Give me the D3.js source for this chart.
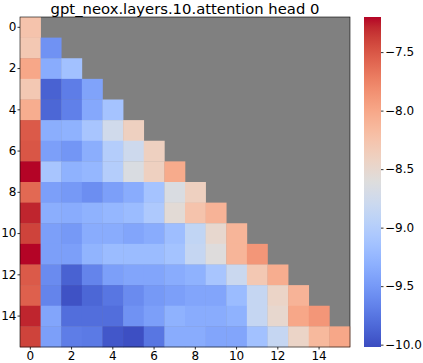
<!DOCTYPE html>
<html>
<head>
<meta charset="utf-8">
<script src="https://cdn.jsdelivr.net/npm/d3@7"></script>
<style>
  body { margin: 0; background: #fff; }
</style>
</head>
<body>
<div id="chart"></div>
<script>
const title = 'gpt_neox.layers.10.attention head 0';

// lower triangle of attention scores, row i has i+1 values
const rows = [
  [-8.25],
  [-8.3, -9.55],
  [-8.0, -9.35, -9.15],
  [-8.3, -9.88, -9.7, -9.42],
  [-8.05, -9.85, -9.68, -9.38, -9.12],
  [-7.52, -9.33, -9.3, -9.1, -8.75, -8.4],
  [-7.5, -9.45, -9.52, -9.33, -9.0, -8.78, -8.4],
  [-7.2, -9.1, -9.3, -9.25, -9.0, -8.65, -8.4, -8.03],
  [-7.6, -9.45, -9.5, -9.58, -9.45, -9.35, -9.12, -8.65, -8.4],
  [-7.28, -9.33, -9.35, -9.3, -9.25, -9.2, -9.05, -8.55, -8.25, -8.1],
  [-7.4, -9.45, -9.5, -9.35, -9.35, -9.4, -9.35, -9.18, -8.88, -8.5, -8.12],
  [-7.2, -9.45, -9.45, -9.28, -9.2, -9.2, -9.2, -9.13, -8.85, -8.6, -8.12, -7.88],
  [-7.52, -9.6, -9.88, -9.65, -9.45, -9.4, -9.4, -9.35, -9.3, -9.1, -8.8, -8.3, -8.05],
  [-7.55, -9.65, -9.98, -9.85, -9.75, -9.6, -9.5, -9.45, -9.4, -9.4, -9.2, -8.85, -8.45, -8.1],
  [-7.28, -9.4, -9.8, -9.8, -9.8, -9.55, -9.45, -9.3, -9.35, -9.35, -9.3, -8.85, -8.5, -8.0, -7.88],
  [-7.4, -9.45, -9.7, -9.72, -9.95, -10.0, -9.75, -9.35, -9.35, -9.4, -9.4, -9.15, -8.85, -8.45, -8.15, -8.0]
];

const n = 16;
const vmin = -10.02, vmax = -7.2;
const axisTicks = [0, 2, 4, 6, 8, 10, 12, 14];
const cbarTicks = [-7.5, -8.0, -8.5, -9.0, -9.5, -10.0];

// matplotlib coolwarm
const coolwarm = [
  [0.2298, 0.2987, 0.7537], [0.2662, 0.3531, 0.8015], [0.3039, 0.4065, 0.8450],
  [0.3428, 0.4588, 0.8837], [0.3830, 0.5094, 0.9174], [0.4244, 0.5581, 0.9456],
  [0.4667, 0.6046, 0.9682], [0.5096, 0.6483, 0.9848], [0.5530, 0.6889, 0.9954],
  [0.5963, 0.7261, 0.9998], [0.6392, 0.7596, 0.9982], [0.6813, 0.7890, 0.9904],
  [0.7222, 0.8140, 0.9766], [0.7615, 0.8343, 0.9569], [0.7987, 0.8498, 0.9317],
  [0.8335, 0.8602, 0.9011], [0.8654, 0.8654, 0.8654], [0.8978, 0.8489, 0.8209],
  [0.9241, 0.8274, 0.7745], [0.9445, 0.8009, 0.7267], [0.9589, 0.7698, 0.6780],
  [0.9673, 0.7341, 0.6288], [0.9700, 0.6943, 0.5794], [0.9668, 0.6504, 0.5303],
  [0.9580, 0.6028, 0.4818], [0.9437, 0.5518, 0.4342], [0.9239, 0.4973, 0.3880],
  [0.8990, 0.4396, 0.3432], [0.8692, 0.3783, 0.3003], [0.8346, 0.3129, 0.2593],
  [0.7956, 0.2413, 0.2205], [0.7525, 0.1572, 0.1841], [0.7057, 0.0156, 0.1502]
].map(c => d3.rgb(c[0] * 255, c[1] * 255, c[2] * 255).toString());

const W = 423, H = 363;
const plot = { x0: 20, x1: 350, y0: 17, y1: 347 };
const cbar = { x0: 364, x1: 381 };
const font = 'DejaVu Sans';
const tickFont = '12px';

const svg = d3.select('#chart').append('svg')
  .attr('width', W)
  .attr('height', H);

const x = d3.scaleBand().domain(d3.range(n)).range([plot.x0, plot.x1]);
const y = d3.scaleBand().domain(d3.range(n)).range([plot.y0, plot.y1]);

const color = d3.scaleLinear()
  .domain(coolwarm.map((c, i) => vmin + (vmax - vmin) * i / (coolwarm.length - 1)))
  .range(coolwarm)
  .clamp(true);

// masked background
svg.append('rect')
  .attr('x', plot.x0).attr('y', plot.y0)
  .attr('width', plot.x1 - plot.x0).attr('height', plot.y1 - plot.y0)
  .attr('fill', '#808080');

const cells = [];
rows.forEach((r, i) => r.forEach((v, j) => cells.push({ i, j, v })));

svg.append('g').selectAll('rect')
  .data(cells)
  .enter()
  .append('rect')
  .attr('x', d => x(d.j))
  .attr('y', d => y(d.i))
  .attr('width', x.bandwidth() + 0.3)
  .attr('height', y.bandwidth() + 0.3)
  .attr('fill', d => color(d.v));

function styleAxis(g) {
  g.select('.domain').remove();
  g.attr('font-family', font);
  g.selectAll('text')
    .style('font-family', font)
    .style('font-size', tickFont)
    .attr('fill', '#000');
  g.selectAll('line').attr('stroke', '#000').attr('stroke-width', 0.8);
}

// axes
const xAxis = d3.axisBottom(x).tickValues(axisTicks).tickSize(2.5).tickPadding(1.5);
const yAxis = d3.axisLeft(y).tickValues(axisTicks).tickSize(2.5).tickPadding(1);

svg.append('g').attr('transform', `translate(0,${plot.y1})`).call(xAxis).call(styleAxis);
svg.append('g').attr('transform', `translate(${plot.x0},0)`).call(yAxis).call(styleAxis);

svg.append('rect')
  .attr('x', plot.x0).attr('y', plot.y0)
  .attr('width', plot.x1 - plot.x0).attr('height', plot.y1 - plot.y0)
  .attr('fill', 'none')
  .attr('stroke', '#000')
  .attr('stroke-width', 0.6);

svg.append('text')
  .attr('x', (plot.x0 + plot.x1) / 2)
  .attr('y', 13.5)
  .attr('text-anchor', 'middle')
  .style('font-family', font)
  .style('font-size', '14.8px')
  .attr('fill', '#000')
  .text(title);

// colorbar
const cy = d3.scaleLinear().domain([vmin, vmax]).range([plot.y1, plot.y0]);
const grad = svg.append('defs').append('linearGradient')
  .attr('id', 'cbar')
  .attr('x1', 0).attr('y1', 1).attr('x2', 0).attr('y2', 0);
grad.selectAll('stop')
  .data(coolwarm)
  .enter()
  .append('stop')
  .attr('offset', (d, i) => i / (coolwarm.length - 1))
  .attr('stop-color', d => d);

svg.append('rect')
  .attr('x', cbar.x0).attr('y', plot.y0)
  .attr('width', cbar.x1 - cbar.x0).attr('height', plot.y1 - plot.y0)
  .attr('fill', 'url(#cbar)');

const cAxis = d3.axisRight(cy)
  .tickValues(cbarTicks)
  .tickFormat(d3.format('.1f'))
  .tickSize(2.5)
  .tickPadding(1.5);
svg.append('g').attr('transform', `translate(${cbar.x1},0)`).call(cAxis).call(styleAxis);
</script>
</body>
</html>
